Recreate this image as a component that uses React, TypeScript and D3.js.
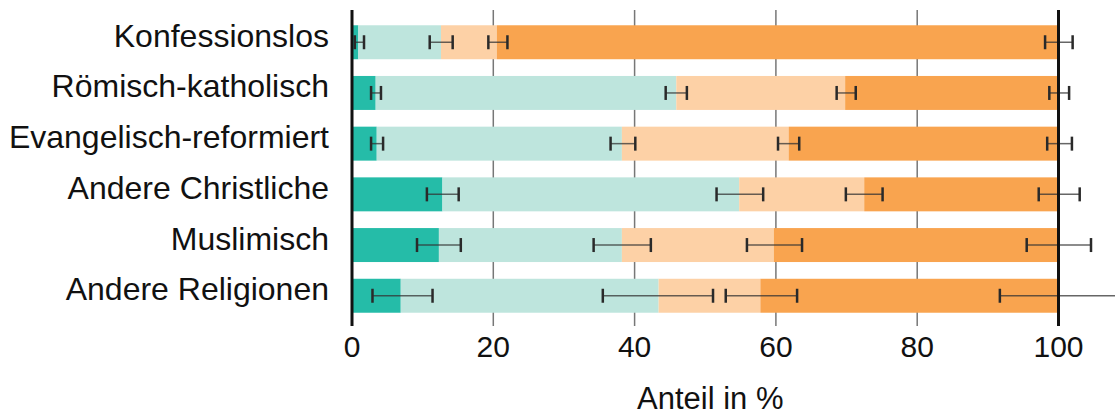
import React from "react";
import * as d3 from "d3";

const categories = [
  "Konfessionslos",
  "Römisch-katholisch",
  "Evangelisch-reformiert",
  "Andere Christliche",
  "Muslimisch",
  "Andere Religionen",
];

// Segment shares in %
const seg1 = [0.9, 3.35, 3.5, 12.8, 12.3, 6.9];
const seg2 = [11.7, 42.55, 34.7, 42.0, 25.9, 36.5];
const seg3 = [7.9, 23.9, 23.6, 17.7, 21.5, 14.4];
const seg4 = [79.5, 30.2, 38.2, 27.5, 40.3, 42.2];

// Confidence intervals at each cumulative boundary
const ci1Low = [0.4, 2.7, 2.7, 10.6, 9.2, 2.9];
const ci1High = [1.7, 4.1, 4.4, 15.1, 15.4, 11.4];
const ci2Low = [11.0, 44.4, 36.6, 51.6, 34.2, 35.5];
const ci2High = [14.25, 47.4, 40.1, 58.2, 42.3, 51.1];
const ci3Low = [19.3, 68.6, 60.3, 69.9, 55.9, 52.9];
const ci3High = [22.0, 71.3, 63.3, 75.1, 63.7, 63.0];
const ci4Low = [98.1, 98.7, 98.4, 97.2, 95.5, 91.7];
const ci4High = [102.0, 101.5, 101.9, 103.0, 104.6, 108.5];

const xTicks = [0, 20, 40, 60, 80, 100];
const xLabel = "Anteil in %";

const colors = ["#25bca8", "#bee5dd", "#fdd1a6", "#f9a44f"];

export default function App() {
  const W = 1115;
  const H = 417;
  const x = d3.scaleLinear().domain([0, 100]).range([352, 1058.5]);
  const y = d3
    .scaleBand<string>()
    .domain(categories)
    .range([16.9, 321.1])
    .paddingInner(0.33)
    .paddingOuter(0.165);
  const bw = y.bandwidth();
  const segs = [seg1, seg2, seg3, seg4];
  const lows = [ci1Low, ci2Low, ci3Low, ci4Low];
  const highs = [ci1High, ci2High, ci3High, ci4High];
  const font = "'Liberation Sans', Arial, sans-serif";
  const lineTop = 10;
  const lineBottom = 326;

  const stackData = categories.map((c, i) => {
    const o: any = { cat: c };
    segs.forEach((s, k) => (o["s" + k] = s[i]));
    return o;
  });
  const stack = d3.stack<any>().keys(["s0", "s1", "s2", "s3"]);
  const series = stack(stackData);

  return (
    <svg
      width={W}
      height={H}
      style={{ position: "absolute", left: 0, top: 0, background: "#fff" }}
    >
      {/* grid lines */}
      {xTicks
        .filter((t) => t !== 0 && t !== 100)
        .map((t) => (
          <line
            key={"g" + t}
            x1={x(t)}
            x2={x(t)}
            y1={lineTop}
            y2={lineBottom}
            stroke="#777"
            strokeWidth={1.5}
          />
        ))}
      {/* bars */}
      {series.map((s, k) =>
        s.map((d, i) => (
          <rect
            key={"b" + k + "-" + i}
            x={x(d[0])}
            width={x(d[1]) - x(d[0])}
            y={y(categories[i])!}
            height={bw}
            fill={colors[k]}
          />
        ))
      )}
      {/* error bars */}
      {lows.map((lo, k) =>
        categories.map((c, i) => {
          const cy = y(c)! + bw / 2;
          const x1 = x(lo[i]);
          const x2 = x(highs[k][i]);
          return (
            <g key={"e" + k + "-" + i}>
              <line x1={x1} x2={x2} y1={cy} y2={cy} stroke="#333" strokeOpacity={0.75} strokeWidth={1.5} />
              <line x1={x1} x2={x1} y1={cy - 7} y2={cy + 7} stroke="#2a2a2a" strokeWidth={2.5} />
              <line x1={x2} x2={x2} y1={cy - 7} y2={cy + 7} stroke="#2a2a2a" strokeWidth={2.5} />
            </g>
          );
        })
      )}
      {/* axis lines at 0 and 100 */}
      {[0, 100].map((t) => (
        <line
          key={"a" + t}
          x1={x(t)}
          x2={x(t)}
          y1={lineTop}
          y2={lineBottom}
          stroke="#111"
          strokeWidth={3}
        />
      ))}
      {/* category labels */}
      {categories.map((c) => (
        <text
          key={"l" + c}
          x={329}
          y={y(c)! + bw / 2 + 4.5}
          textAnchor="end"
          fontFamily={font}
          fontSize={32}
          fill="#111"
        >
          {c}
        </text>
      ))}
      {/* tick labels */}
      {xTicks.map((t) => (
        <text
          key={"t" + t}
          x={x(t)}
          y={357}
          textAnchor="middle"
          fontFamily={font}
          fontSize={30}
          fill="#111"
        >
          {t}
        </text>
      ))}
      <text
        x={(x(0) + x(100)) / 2 + 5}
        y={409}
        textAnchor="middle"
        fontFamily={font}
        fontSize={31}
        fill="#111"
      >
        {xLabel}
      </text>
    </svg>
  );
}
